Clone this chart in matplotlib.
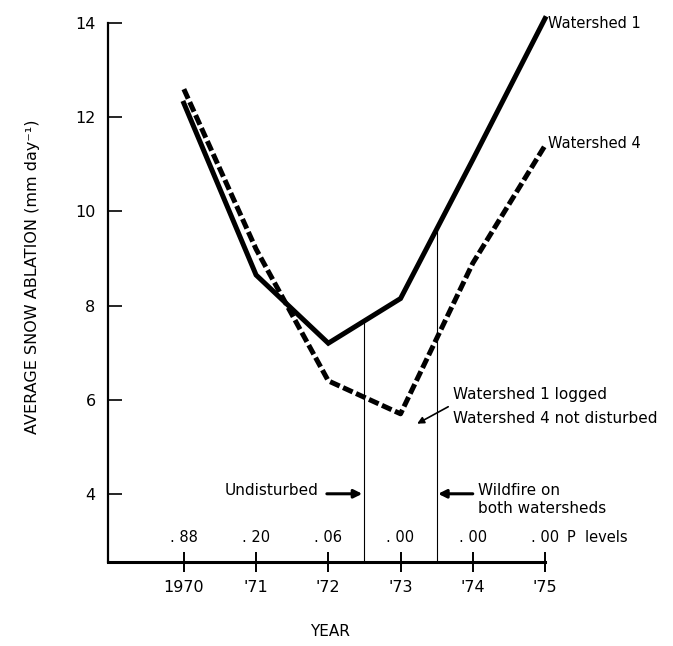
import numpy as np
import matplotlib
matplotlib.use("Agg")
import matplotlib.pyplot as plt

# values
years = [1970, 1971, 1972, 1973, 1974, 1975]
ws1 = [12.3, 8.65, 7.2, 8.15, 11.1, 14.1]   # Watershed 1 (solid)
ws4 = [12.6, 9.2, 6.4, 5.7, 8.9, 11.4]      # Watershed 4 (dashed)
p_levels = [". 88", ". 20", ". 06", ". 00", ". 00", ". 00"]
year_labels = ["1970", "'71", "'72", "'73", "'74", "'75"]
y_ticks = [4, 6, 8, 10, 12, 14]
events = [1972.5, 1973.5]

plt.rcParams['font.family'] = ['DejaVu Sans']

fig = plt.figure(figsize=(6.73, 6.46), dpi=100)
ax = fig.add_axes([0.1605, 0.130, 0.6493, 0.834])

ax.plot(years, ws1, color='black', lw=3.6, solid_joinstyle='miter', clip_on=False)
ax.plot(years, ws4, color='black', lw=3.6, linestyle=(0, (2.1, 0.75)),
        dash_capstyle='butt', clip_on=False)

ax.set_xlim(1968.95, 1975)
ax.set_ylim(2.55, 14)

# thin vertical lines up to watershed 1
for ev in events:
    top = np.interp(ev, years, ws1)
    ax.plot([ev, ev], [2.55, top], color='black', lw=0.8)

for sp in ['top', 'right']:
    ax.spines[sp].set_visible(False)
ax.spines['left'].set_linewidth(1.6)
ax.spines['bottom'].set_linewidth(2.2)

ax.set_yticks(y_ticks)
ax.set_yticklabels([str(t) for t in y_ticks], fontsize=11.5)
ax.tick_params(axis='y', direction='in', length=10, width=1.2, pad=9)
ax.set_xticks(years)
ax.set_xticklabels(year_labels, fontsize=11.5)
ax.tick_params(axis='x', direction='inout', length=14, width=1.4, pad=6)

# P levels row
for x, p in zip(years, p_levels):
    ax.text(x, 3.07, p, ha='center', va='center', fontsize=10.5)
ax.text(1975.3, 3.07, "P  levels", ha='left', va='center', fontsize=10.5, clip_on=False)

# series labels
ax.text(1975.04, 14.0, "Watershed 1", ha='left', va='center', fontsize=10.5, clip_on=False)
ax.text(1975.04, 11.45, "Watershed 4", ha='left', va='center', fontsize=10.5, clip_on=False)

# annotations
arrow = dict(arrowstyle='-|>', color='black', lw=2.2, mutation_scale=12, shrinkA=0, shrinkB=0)
ax.annotate("", xy=(1973.23, 5.49), xytext=(1973.66, 5.85),
            arrowprops=dict(arrowstyle='-|>', color='black', lw=1.2, mutation_scale=10, shrinkA=0, shrinkB=0))
ax.text(1973.73, 6.10, "Watershed 1 logged", ha='left', va='center', fontsize=11)
ax.text(1973.73, 5.61, "Watershed 4 not disturbed", ha='left', va='center', fontsize=11)

ax.annotate("", xy=(1972.47, 4.0), xytext=(1971.98, 4.0), arrowprops=arrow)
ax.text(1971.87, 4.06, "Undisturbed", ha='right', va='center', fontsize=11)

ax.annotate("", xy=(1973.52, 4.0), xytext=(1974.0, 4.0), arrowprops=arrow)
ax.text(1974.07, 4.06, "Wildfire on", ha='left', va='center', fontsize=11)
ax.text(1974.07, 3.68, "both watersheds", ha='left', va='center', fontsize=11)

fig.text(0.048, 0.571, "AVERAGE SNOW ABLATION (mm day\u207b\u00b9)", rotation=90,
         ha='center', va='center', fontsize=11.5)
fig.text(0.490, 0.022, "YEAR", ha='center', va='center', fontsize=11)

fig.savefig("out.png", dpi=100)
